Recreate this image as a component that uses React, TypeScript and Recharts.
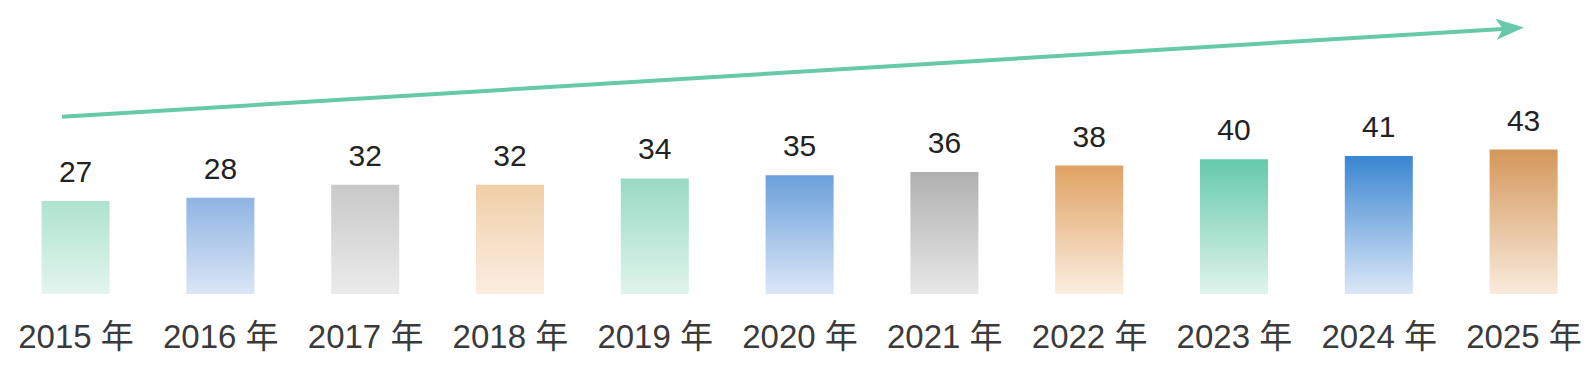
import React from 'react';
import { BarChart, Bar, XAxis, YAxis, Cell, LabelList, ReferenceLine } from 'recharts';

const years = ['2015 年', '2016 年', '2017 年', '2018 年', '2019 年', '2020 年', '2021 年', '2022 年', '2023 年', '2024 年', '2025 年'];
const values = [27, 28, 32, 32, 34, 35, 36, 38, 40, 41, 43];
const topColors = ['#aee3cf', '#8fb4e3', '#c9c9c9', '#f0cfa8', '#98dac3', '#6aa0da', '#b0b0b0', '#e0a262', '#66c9ab', '#3a86d1', '#d4975b'];
const bottomColors = ['#e3f5ee', '#dbe6f6', '#ebebeb', '#fbeee0', '#e0f4ec', '#dce7f7', '#e8e8e8', '#fbeee0', '#e0f4ec', '#dce7f7', '#f9ebdc'];

// bars start a little below zero in the original
const BASE = -2;
const Y_MAX = 89.6;
// trend arrow, in value units
const ARROW_FROM = 53.5;
const ARROW_TO = 81;

const data = years.map((year, i) => ({ year, value: values[i] }));

const FONT = '"Liberation Sans", Arial, "Noto Sans CJK SC", sans-serif';
const ARROW_COLOR = '#66c9a9';

const TrendArrow = (props: any) => {
  const { x1, y1, x2, y2 } = props;
  const dx = x2 - x1;
  const dy = y2 - y1;
  const len = Math.sqrt(dx * dx + dy * dy) || 1;
  const ux = dx / len;
  const uy = dy / len;
  const nx = -uy;
  const ny = ux;
  const sx = x1 - ux * 14;
  const sy = y1 - uy * 14;
  const headLen = 28;
  const halfW = 10.5;
  const notch = 21;
  const pts = [
    [x2, y2],
    [x2 - ux * headLen + nx * halfW, y2 - uy * headLen + ny * halfW],
    [x2 - ux * notch, y2 - uy * notch],
    [x2 - ux * headLen - nx * halfW, y2 - uy * headLen - ny * halfW],
  ]
    .map((p) => p.join(','))
    .join(' ');
  return (
    <g>
      <line x1={sx} y1={sy} x2={x2 - ux * notch} y2={y2 - uy * notch} stroke={ARROW_COLOR} strokeWidth={4} />
      <polygon points={pts} fill={ARROW_COLOR} />
    </g>
  );
};

export default function App() {
  return (
    <div style={{ position: 'absolute', left: 0, top: 0, width: 1592, height: 372, overflow: 'hidden', background: '#fff' }}>
      <BarChart width={1600} height={372} data={data} margin={{ top: 0, right: 3.6, bottom: 0, left: 3.6 }}>
        <defs>
          {data.map((d, i) => (
            <linearGradient key={d.year} id={`grad-${i}`} x1="0" y1="0" x2="0" y2="1">
              <stop offset="0%" stopColor={topColors[i]} />
              <stop offset="100%" stopColor={bottomColors[i]} />
            </linearGradient>
          ))}
        </defs>
        <XAxis
          dataKey="year"
          height={78}
          axisLine={false}
          tickLine={false}
          tickMargin={25}
          interval={0}
          tick={{ fontSize: 33, fill: '#3a3a3a', fontFamily: FONT }}
        />
        <YAxis hide domain={[BASE, Y_MAX]} allowDataOverflow />
        <ReferenceLine
          segment={[
            { x: years[0], y: ARROW_FROM },
            { x: years[years.length - 1], y: ARROW_TO },
          ]}
          ifOverflow="visible"
          shape={TrendArrow}
        />
        <Bar dataKey={(d: any) => [BASE, d.value]} barSize={68} isAnimationActive={false}>
          {data.map((d, i) => (
            <Cell key={d.year} fill={`url(#grad-${i})`} />
          ))}
          <LabelList dataKey="value" position="top" offset={19} style={{ fontSize: 30, fill: '#222', fontFamily: FONT }} />
        </Bar>
      </BarChart>
    </div>
  );
}
